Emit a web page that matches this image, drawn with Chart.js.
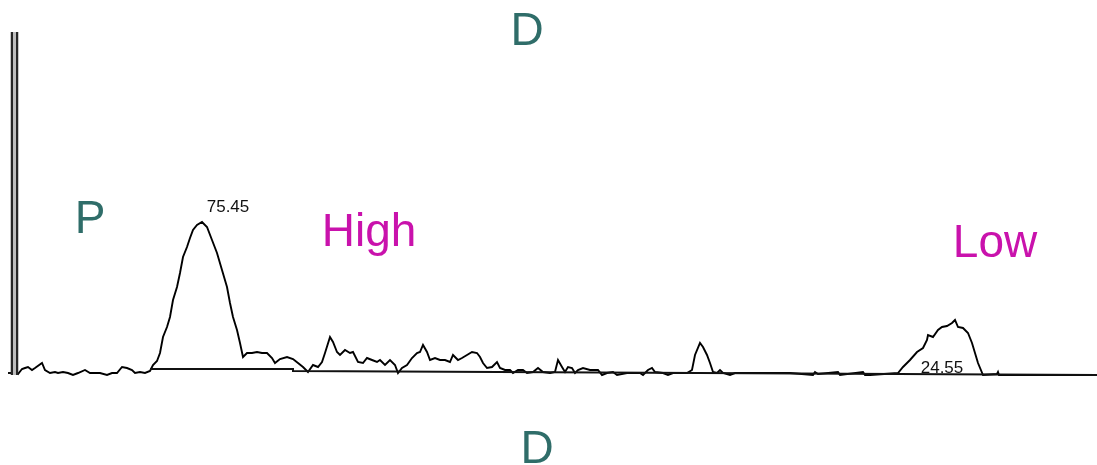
<!DOCTYPE html>
<html>
<head>
<meta charset="utf-8">
<script src="https://cdn.jsdelivr.net/npm/chart.js@4/dist/chart.umd.min.js"></script>
<style>
    body { margin: 0; background: #fff; }
    #wrap { position: relative; width: 1097px; height: 465px; }
</style>
</head>
<body>
<div id="wrap"><canvas id="chart"></canvas></div>
<script>
// densitometry trace (position along lane, density)
var tracePos = [8, 10, 14, 17, 20, 24, 27, 34, 37, 42, 47, 50, 55, 60, 65, 70, 77, 82, 92, 99, 104, 109, 114, 119, 124, 127, 132, 137, 142, 145, 149,
    152, 155, 159, 162, 165, 169, 172, 175, 179, 182, 185, 189, 194, 199, 204, 209, 214, 219, 222, 225, 229, 232, 235, 239, 244, 249, 254, 259, 264, 267,
    272, 279, 285, 290, 295, 300, 305, 310, 314, 317, 322, 325, 329, 332, 337, 342, 345, 350, 355, 359, 364, 369, 372, 377, 382, 387, 390, 394, 399, 404,
    409, 412, 415, 419, 422, 427, 432, 437, 442, 445, 450, 454, 459, 464, 469, 472, 475, 479, 484, 489, 492, 497, 502, 505, 510, 515, 519, 525, 530, 535,
    542, 547, 550, 554, 557, 560, 564, 567, 570, 575, 582, 590, 594, 599, 605, 609, 619, 632, 635, 640, 644, 647, 655, 660, 665, 679, 684, 687, 692, 695,
    699, 702, 705, 709, 712, 715, 722, 727, 752, 782, 805, 807, 810, 830, 832, 855, 857, 862, 890, 895, 902, 909, 915, 919, 920, 925, 930, 934, 939, 944,
    947, 950, 955, 960, 964, 967, 970, 975, 989, 990, 991, 1089];
var traceDensity = [3, 2, 7, 8, 9, 6, 8, 13, 6, 3, 4, 3, 4, 3, 1, 3, 6, 3, 3, 1, 3, 3, 9, 8, 6, 3, 4, 3, 5, 11, 15,
    23, 39, 49, 59, 76, 89, 103, 119, 129, 138, 146, 151, 154, 149, 136, 123, 106, 89, 73, 59, 46, 33, 19, 23, 23, 24, 23, 23, 18, 13,
    17, 19, 17, 13, 9, 4, 11, 9, 14, 23, 39, 34, 24, 21, 26, 23, 24, 14, 13, 18, 16, 14, 16, 11, 16, 11, 3, 8, 11, 18,
    23, 24, 31, 24, 16, 18, 16, 16, 14, 21, 16, 18, 21, 24, 23, 19, 13, 8, 9, 14, 8, 6, 6, 3, 6, 6, 3, 4, 8, 4,
    3, 4, 16, 9, 4, 9, 8, 3, 6, 8, 6, 6, 1, 3, 4, 1, 3, 3, 1, 6, 8, 4, 3, 1, 3, 3, 6, 21, 33, 29,
    21, 13, 4, 3, 6, 3, 1, 3, 3, 3, 1, 4, 2, 4, 1, 4, 1, 1, 3, 9, 16, 24, 28, 36, 41, 39, 46, 49, 50, 53,
    56, 49, 48, 43, 33, 23, 13, 1, 2, 4, 1, 1];

// drawn baselines (null = break)
var basePos = [0, 8, 10, 142, 285, 285, 592, 1089];
var baseDensity = [3, 3, null, 7, 7, 5, 3.5, 1];

// left frame bar
var framePos = [4, 9];
var frameDensity = [1, 344];

// peak percentages
var peakLabels = ['75.45', '24.55'];
var peakPos = [220, 934];
var peakDensity = [169, 8];

var teal = '#2f6d69';
var magenta = '#c912ac';

var textPlugin = {
    id: 'gelText',
    beforeDraw: function (chart) {
        var c = chart.ctx;
        c.save();
        c.fillStyle = '#fff';
        c.fillRect(0, 0, chart.width, chart.height);
        c.restore();
    },
    afterDatasetsDraw: function (chart) {
        var c = chart.ctx;
        var xs = chart.scales.x, ys = chart.scales.y;
        c.save();
        c.textAlign = 'center';
        c.textBaseline = 'middle';
        c.fillStyle = '#111';
        c.font = '17px "Liberation Sans", Arial, sans-serif';
        for (var i = 0; i < peakLabels.length; i++) {
            c.fillText(peakLabels[i], xs.getPixelForValue(peakPos[i]), ys.getPixelForValue(peakDensity[i]));
        }
        c.textBaseline = 'alphabetic';
        c.font = '46px "Liberation Sans", Arial, sans-serif';
        c.fillStyle = teal;
        c.fillText('D', 527, 45);
        c.fillText('D', 537, 463);
        c.fillText('P', 90, 233);
        c.fillStyle = magenta;
        c.fillText('High', 369, 246);
        c.fillText('Low', 995, 257);
        c.restore();
    }
};

var ctx = document.getElementById('chart');
var myChart = new Chart(ctx, {
    type: 'scatter',
    data: {
        datasets: [{
            data: [{ x: 6.5, y: frameDensity[0] }, { x: 6.5, y: frameDensity[1] }],
            borderColor: '#bdbdbd',
            borderWidth: 3,
            showLine: true,
            pointRadius: 0,
            clip: false
        }, {
            data: frameDensity.map(function (d) { return { x: framePos[0], y: d }; }),
            borderColor: '#262626',
            borderWidth: 2.5,
            showLine: true,
            pointRadius: 0,
            clip: false
        }, {
            data: frameDensity.map(function (d) { return { x: framePos[1], y: d }; }),
            borderColor: '#262626',
            borderWidth: 2.5,
            showLine: true,
            pointRadius: 0,
            clip: false
        }, {
            data: basePos.map(function (p, i) { return { x: p, y: baseDensity[i] }; }),
            borderColor: '#111',
            borderWidth: 2,
            showLine: true,
            spanGaps: false,
            pointRadius: 0,
            clip: false
        }, {
            data: tracePos.map(function (p, i) { return { x: p, y: traceDensity[i] }; }),
            borderColor: '#000',
            borderWidth: 1.9,
            showLine: true,
            tension: 0,
            pointRadius: 0,
            clip: false
        }]
    },
    options: {
        responsive: true,
        maintainAspectRatio: false,
        animation: false,
        layout: { padding: { left: 8, right: 0, top: 32, bottom: 89 } },
        plugins: { legend: { display: false }, tooltip: { enabled: false } },
        scales: {
            x: { type: 'linear', min: 0, max: 1089, display: false },
            y: { type: 'linear', min: 0, max: 344, display: false }
        }
    },
    plugins: [textPlugin]
});
</script>
</body>
</html>
